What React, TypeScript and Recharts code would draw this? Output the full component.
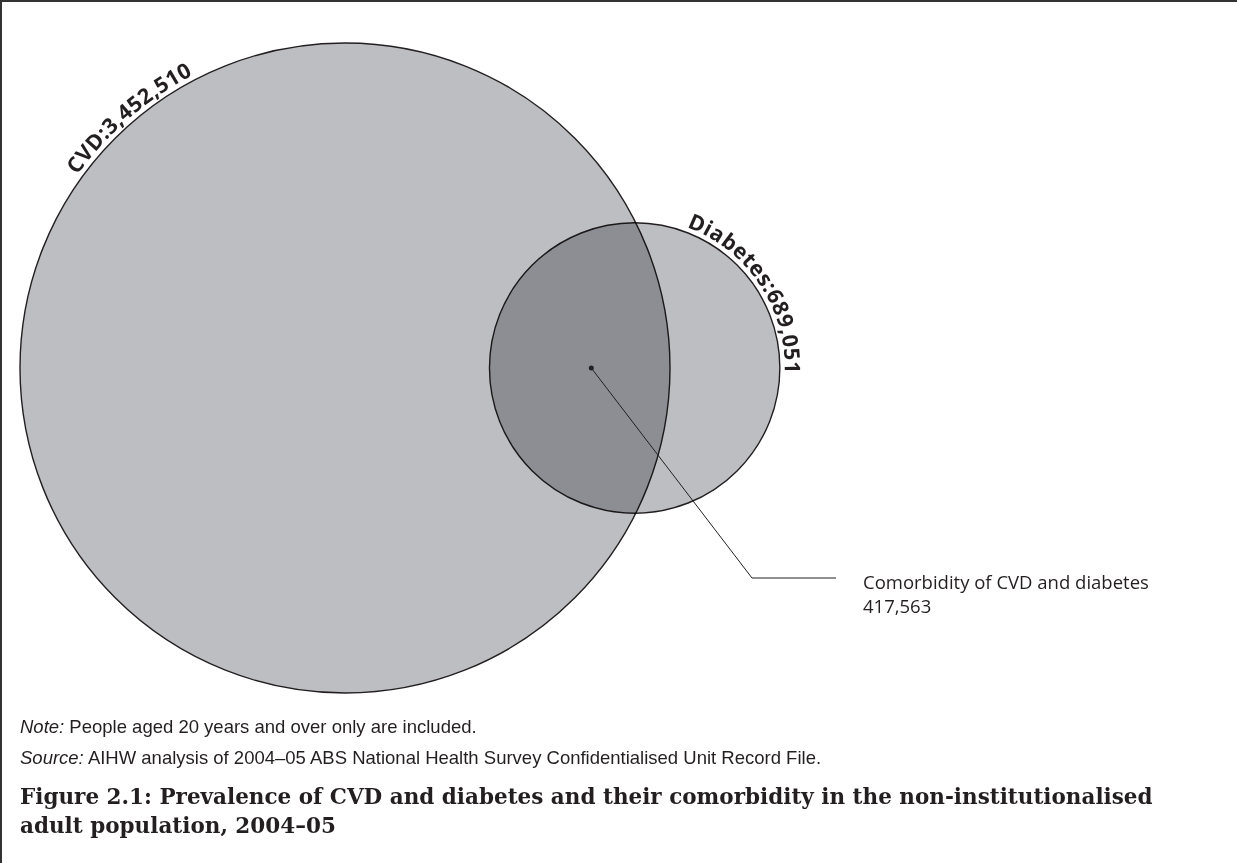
import React from "react";
import { ScatterChart, Scatter, XAxis, YAxis, ZAxis } from "recharts";

// sets and their totals (persons)
const setNames = ["CVD", "Diabetes"];
const setTotals = [3452510, 689051];
const overlapName = "Comorbidity of CVD and diabetes";
const overlapTotal = 417563;

const W = 1237;
const H = 863;
const CHART_H = 705;
const MAX_R = 325;
const MAX_AREA = Math.PI * MAX_R * MAX_R;
const LEFT = 20;
const MID_Y = 368;
const LABEL_START = [215.8, 290.3];
const LABEL_GAP = 5;
const INK = "#231f20";

function lensArea(r1: number, r2: number, d: number) {
  if (d >= r1 + r2) return 0;
  if (d <= Math.abs(r1 - r2)) return Math.PI * Math.min(r1, r2) ** 2;
  const a = r1 * r1 * Math.acos((d * d + r1 * r1 - r2 * r2) / (2 * d * r1));
  const b = r2 * r2 * Math.acos((d * d + r2 * r2 - r1 * r1) / (2 * d * r2));
  const c = 0.5 * Math.sqrt((-d + r1 + r2) * (d + r1 - r2) * (d - r1 + r2) * (d + r1 + r2));
  return a + b - c;
}

function solveDistance(r1: number, r2: number, area: number) {
  let lo = Math.abs(r1 - r2);
  let hi = r1 + r2;
  for (let i = 0; i < 60; i++) {
    const mid = (lo + hi) / 2;
    if (lensArea(r1, r2, mid) > area) lo = mid;
    else hi = mid;
  }
  return (lo + hi) / 2;
}

function segment(r: number, h: number) {
  const t = Math.acos(h / r);
  const k = t - Math.sin(t) * Math.cos(t);
  return { area: r * r * k, g: (2 * r * Math.sin(t) ** 3) / (3 * k) };
}

const k = MAX_AREA / Math.max(...setTotals);
const radii = setTotals.map((v) => Math.sqrt((k * v) / Math.PI));
const dist = solveDistance(radii[0], radii[1], k * overlapTotal);
const cx0 = LEFT + radii[0];

const circles = setNames.map((name, i) => ({
  name,
  total: setTotals[i],
  x: i === 0 ? cx0 : cx0 + dist,
  y: MID_Y,
}));

// centroid of the overlap lens
const chord = (dist * dist + radii[0] ** 2 - radii[1] ** 2) / (2 * dist);
const s1 = segment(radii[0], chord);
const s2 = segment(radii[1], dist - chord);
const lensX = (s1.area * (cx0 + s1.g) + s2.area * (cx0 + dist - s2.g)) / (s1.area + s2.area);
const overlap = [{ name: overlapName, total: overlapTotal, x: lensX + 5, y: MID_Y }];

const fmt = (v: number) => v.toLocaleString("en-US");

function VennCircle(props: any) {
  const { cx, cy, width, payload } = props;
  const i = setNames.indexOf(payload.name);
  const r = width / 2;
  const rt = r + LABEL_GAP;
  const a0 = (LABEL_START[i] * Math.PI) / 180;
  const a1 = a0 + (150 * Math.PI) / 180;
  const id = `venn-arc-${i}`;
  const d = `M ${cx + rt * Math.cos(a0)} ${cy + rt * Math.sin(a0)} A ${rt} ${rt} 0 0 1 ${
    cx + rt * Math.cos(a1)
  } ${cy + rt * Math.sin(a1)}`;
  return (
    <g>
      <circle
        cx={cx}
        cy={cy}
        r={r}
        fill="#bdbec2"
        stroke={INK}
        strokeWidth={1.4}
        style={i > 0 ? { mixBlendMode: "multiply" } : undefined}
      />
      <path id={id} d={d} fill="none" />
      <text
        fontFamily="'Open Sans', sans-serif"
        fontWeight={700}
        fontSize={21.5}
        letterSpacing={0.5}
        fill={INK}
      >
        <textPath href={`#${id}`}>{`${payload.name}:${fmt(payload.total)}`}</textPath>
      </text>
    </g>
  );
}

function OverlapMark(props: any) {
  const { cx, cy, payload } = props;
  const ex = 752;
  const ey = 578;
  const hx = 836;
  return (
    <g>
      <circle cx={cx} cy={cy} r={2.5} fill={INK} />
      <polyline points={`${cx},${cy} ${ex},${ey} ${hx},${ey}`} fill="none" stroke={INK} strokeWidth={1} />
      <text fontFamily="'Open Sans', sans-serif" fontSize={18.5} fill={INK}>
        <tspan x={hx + 27} y={ey + 11}>{payload.name}</tspan>
        <tspan x={hx + 27} y={ey + 35}>{fmt(payload.total)}</tspan>
      </text>
    </g>
  );
}

export default function App() {
  return (
    <div style={{ position: "relative", width: W, height: H, background: "#fff", overflow: "hidden" }}>
      <style>{`body{margin:0}`}</style>
      <ScatterChart width={W} height={CHART_H} margin={{ top: 0, right: 0, bottom: 0, left: 0 }}>
        <XAxis type="number" dataKey="x" domain={[0, W]} hide />
        <YAxis type="number" dataKey="y" domain={[0, CHART_H]} reversed hide />
        <ZAxis type="number" dataKey="total" domain={[0, Math.max(...setTotals)]} range={[0, MAX_AREA]} />
        <Scatter data={circles} shape={VennCircle} isAnimationActive={false} />
        <Scatter data={overlap} shape={OverlapMark} isAnimationActive={false} />
      </ScatterChart>
      <div
        style={{
          position: "absolute",
          left: 20,
          top: 711,
          fontFamily: "'Liberation Sans', Arial, sans-serif",
          fontSize: 18.5,
          color: INK,
          lineHeight: "31px",
        }}
      >
        <div>
          <i>Note:</i> People aged 20 years and over only are included.
        </div>
        <div>
          <i>Source:</i> AIHW analysis of 2004–05 ABS National Health Survey Confidentialised Unit Record File.
        </div>
      </div>
      <div
        style={{
          position: "absolute",
          left: 20,
          top: 782,
          fontFamily: "'DejaVu Serif', serif",
          fontWeight: 700,
          fontSize: 21.5,
          lineHeight: "29px",
          color: INK,
          whiteSpace: "nowrap",
        }}
      >
        Figure 2.1: Prevalence of CVD and diabetes and their comorbidity in the non-institutionalised
        <br />
        adult population, 2004–05
      </div>
      <div
        style={{
          position: "absolute",
          left: 0,
          top: 0,
          width: W,
          height: H,
          borderTop: "2px solid #333",
          borderLeft: "2px solid #333",
          boxSizing: "border-box",
          pointerEvents: "none",
        }}
      />
    </div>
  );
}
